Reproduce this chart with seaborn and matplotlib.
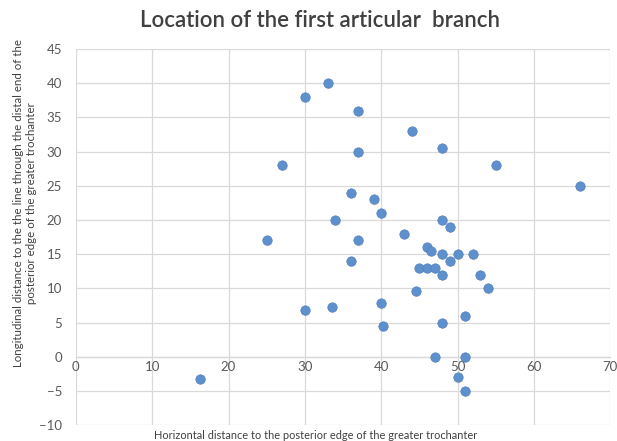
import matplotlib
matplotlib.use("Agg")
import matplotlib.pyplot as plt
import seaborn as sns
import pandas as pd

horizontal = [16.3, 25, 27, 30, 30, 33, 33.5, 34, 36, 36, 37, 37, 37, 39, 40, 40, 40.2,
              43, 44, 44.5, 45, 46, 46, 46.5, 47, 47, 48, 48, 48, 48, 48, 49, 49, 50,
              50, 51, 51, 51, 52, 53, 54, 55, 66]
longitudinal = [-3.2, 17, 28, 38, 6.8, 40, 7.3, 20, 24, 14, 36, 30, 17, 23, 21, 7.8, 4.5,
                18, 33, 9.6, 13, 16, 13, 15.5, 13, 0, 30.5, 20, 15, 12, 5, 19, 14, 15,
                -3, 6, 0, -5, 15, 12, 10, 28, 25]
x_ticks = [0, 10, 20, 30, 40, 50, 60, 70]
y_ticks = [-10, -5, 0, 5, 10, 15, 20, 25, 30, 35, 40, 45]

title = "Location of the first articular  branch"
x_label = "Horizontal distance to the posterior edge of the greater trochanter"
y_label = ("Longitudinal distance to the the line through the distal end of the\n"
           "posterior edge of the greater trochanter")

df = pd.DataFrame({"h": horizontal, "l": longitudinal})

sns.set_style("white")
plt.rcParams["font.family"] = ["Lato", "DejaVu Sans"]

fig = plt.figure(figsize=(6.17, 4.41), dpi=100)
ax = fig.add_axes([0.123, 0.036, 0.866, 0.853])

# shadow
sns.scatterplot(data=df, x="h", y="l", ax=ax, s=50, color="#9a9a9a", alpha=0.35,
                edgecolor="none", legend=False, zorder=2,
                transform=ax.transData + matplotlib.transforms.ScaledTranslation(0.6/72, -0.8/72, fig.dpi_scale_trans))
sns.scatterplot(data=df, x="h", y="l", ax=ax, s=46, color="#5E90CD",
                edgecolor="#4a7bbb", linewidth=0.4, legend=False, zorder=3)

ax.set_xlim(0, 70)
ax.set_ylim(-10, 45)
ax.set_xticks(x_ticks)
ax.set_yticks(y_ticks)
ax.grid(True, color="#d9d9d9", linewidth=0.9)
ax.set_axisbelow(True)
for s in ["top", "right", "left"]:
    ax.spines[s].set_visible(False)
ax.spines["bottom"].set_position(("data", 0))
ax.spines["bottom"].set_color("#d9d9d9")
ax.spines["bottom"].set_linewidth(0.9)
ax.tick_params(axis="both", length=0, labelsize=9.5, labelcolor="#595959")
ax.tick_params(axis="x", pad=3)
ax.tick_params(axis="y", pad=10)
ax.set_xlabel("")
ax.set_ylabel("")

fig.text(0.518, 0.953, title, ha="center", va="center", fontsize=16,
         color="#404040", fontweight="semibold")
fig.text(0.512, 0.012, x_label, ha="center", va="center", fontsize=7.9, color="#404040")
fig.text(0.041, 0.54, y_label, ha="center", va="center", rotation=90, fontsize=8.3,
         color="#404040", linespacing=1.25)

fig.savefig("out.png", dpi=100)
